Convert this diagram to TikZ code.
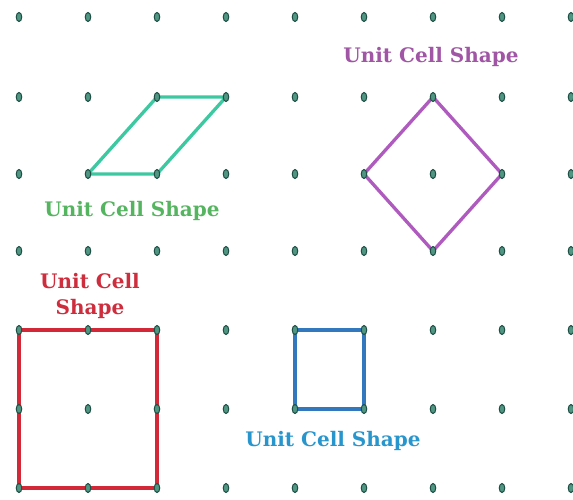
\documentclass[tikz,border=0pt]{standalone}
\usepackage{fontspec}
\usepackage{xcolor}
\usepackage{tikz}
\usetikzlibrary{positioning,backgrounds,shapes.geometric}
\newfontfamily\labelfont{DejaVu Serif}
\definecolor{dotfill}{RGB}{80,150,130}
\definecolor{dotline}{RGB}{30,80,70}
\definecolor{obliqueline}{RGB}{60,200,160}
\definecolor{obliquetext}{RGB}{85,180,95}
\definecolor{rhombline}{RGB}{175,90,190}
\definecolor{rhombtext}{RGB}{160,85,165}
\definecolor{rectline}{RGB}{210,40,55}
\definecolor{recttext}{RGB}{205,45,60}
\definecolor{squareline}{RGB}{50,120,190}
\definecolor{squaretext}{RGB}{40,150,205}

\begin{document}
\begin{tikzpicture}[x=1pt,y=-1pt,
  pt/.style={ellipse,draw=dotline,fill=dotfill,line width=1pt,minimum width=5.5pt,minimum height=9pt,inner sep=0pt},
  cell/.style={line width=3.3pt,line join=round},
  lbl/.style={font=\labelfont\bfseries\fontsize{20}{26}\selectfont,align=center}]
\useasboundingbox (0,0) rectangle (573,499);
% lattice points
\foreach \y [count=\i] in {17,97,174,251,330,409,488}
  \foreach \x [count=\j] in {19,88,157,226,295,364,433,502,571}
    \node[pt] (d-\i-\j) at (\x,\y) {};
% unit cells
\begin{scope}[on background layer]
\draw[cell,obliqueline] (d-3-2.center) -- (d-3-3.center) -- (d-2-4.center) -- (d-2-3.center) -- cycle;
\draw[cell,rhombline] (d-2-7.center) -- (d-3-8.center) -- (d-4-7.center) -- (d-3-6.center) -- cycle;
\draw[cell,rectline] (d-5-1.center) -- (d-5-3.center) -- (d-7-3.center) -- (d-7-1.center) -- cycle;
\draw[cell,squareline] (d-5-5.center) -- (d-5-6.center) -- (d-6-6.center) -- (d-6-5.center) -- cycle;
\end{scope}
% labels
\node[lbl,text=obliquetext] (oblique) at (132,211) {Unit Cell Shape};
\node[lbl,text=rhombtext] (rhombic) at (431,57) {Unit Cell Shape};
\node[lbl,text=recttext] (rect) at (90,296) {Unit Cell\\Shape};
\node[lbl,text=squaretext] (square) at (333,441) {Unit Cell Shape};
\end{tikzpicture}
\end{document}
